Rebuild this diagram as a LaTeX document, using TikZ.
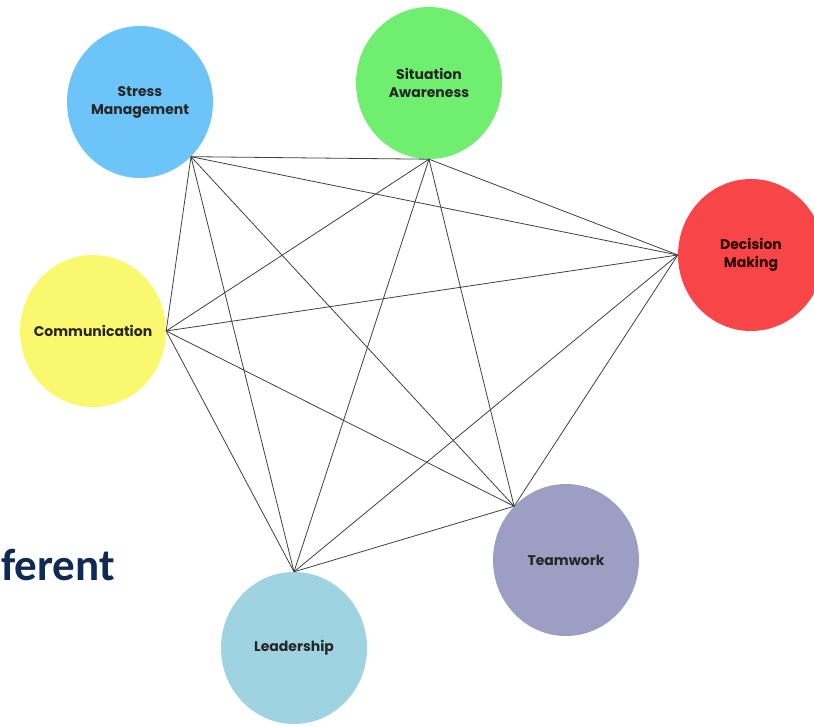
\documentclass[tikz,border=0pt]{standalone}
\usepackage{fontspec}
\setmainfont{Poppins}
\newfontfamily\capfont{Carlito}
\usetikzlibrary{shapes.geometric}
\definecolor{stressblue}{HTML}{6DC4F8}
\definecolor{awaregreen}{HTML}{70EE70}
\definecolor{decisionred}{HTML}{F84648}
\definecolor{commyellow}{HTML}{FAF86E}
\definecolor{teamlilac}{HTML}{9C9EC4}
\definecolor{leadblue}{HTML}{9FD3E1}
\definecolor{captionblue}{HTML}{0F2A55}

\begin{document}
\begin{tikzpicture}[x=1pt, y=-1pt,
    skill/.style={ellipse, minimum width=146pt, minimum height=152pt, inner sep=0pt,
        align=center, text=black!85, font=\bfseries\fontsize{14}{18}\selectfont},
    link/.style={draw=black!75, line width=0.8pt}]
    \useasboundingbox (0,0) rectangle (814,726);
    \clip (0,0) rectangle (814,726);
    % skills
    \node[skill, fill=stressblue]   (sm) at (140,102) {Stress\\Management};
    \node[skill, fill=awaregreen]   (sa) at (429,83)  {Situation\\Awareness};
    \node[skill, fill=decisionred, text=black!75!red!60!black] (dm) at (751,255) {Decision\\Making};
    \node[skill, fill=commyellow, inner xsep=-12pt] (cm) at (93,331) {Communication};
    \node[skill, fill=teamlilac]    (tw) at (566,560) {Teamwork};
    \node[skill, fill=leadblue]     (ld) at (294,648) {Leadership};
    % contact points
    \coordinate (smP) at (sm.-47);
    \coordinate (saP) at (sa.south);
    \coordinate (dmP) at (dm.west);
    \coordinate (cmP) at (cm.east);
    \coordinate (twP) at (tw.134);
    \coordinate (ldP) at (ld.north);
    % every skill linked to every other
    \foreach \a/\b in {smP/saP, smP/dmP, smP/cmP, smP/twP, smP/ldP,
                       saP/dmP, saP/cmP, saP/twP, saP/ldP,
                       dmP/cmP, dmP/twP, dmP/ldP,
                       cmP/twP, cmP/ldP,
                       twP/ldP}
        \draw[link] (\a) -- (\b);
    % cut-off caption
    \node[anchor=base west, inner sep=0pt, text=captionblue,
        font=\capfont\bfseries\fontsize{45}{50}\selectfont] (cap) at (1,580) {ferent};
\end{tikzpicture}
\end{document}
